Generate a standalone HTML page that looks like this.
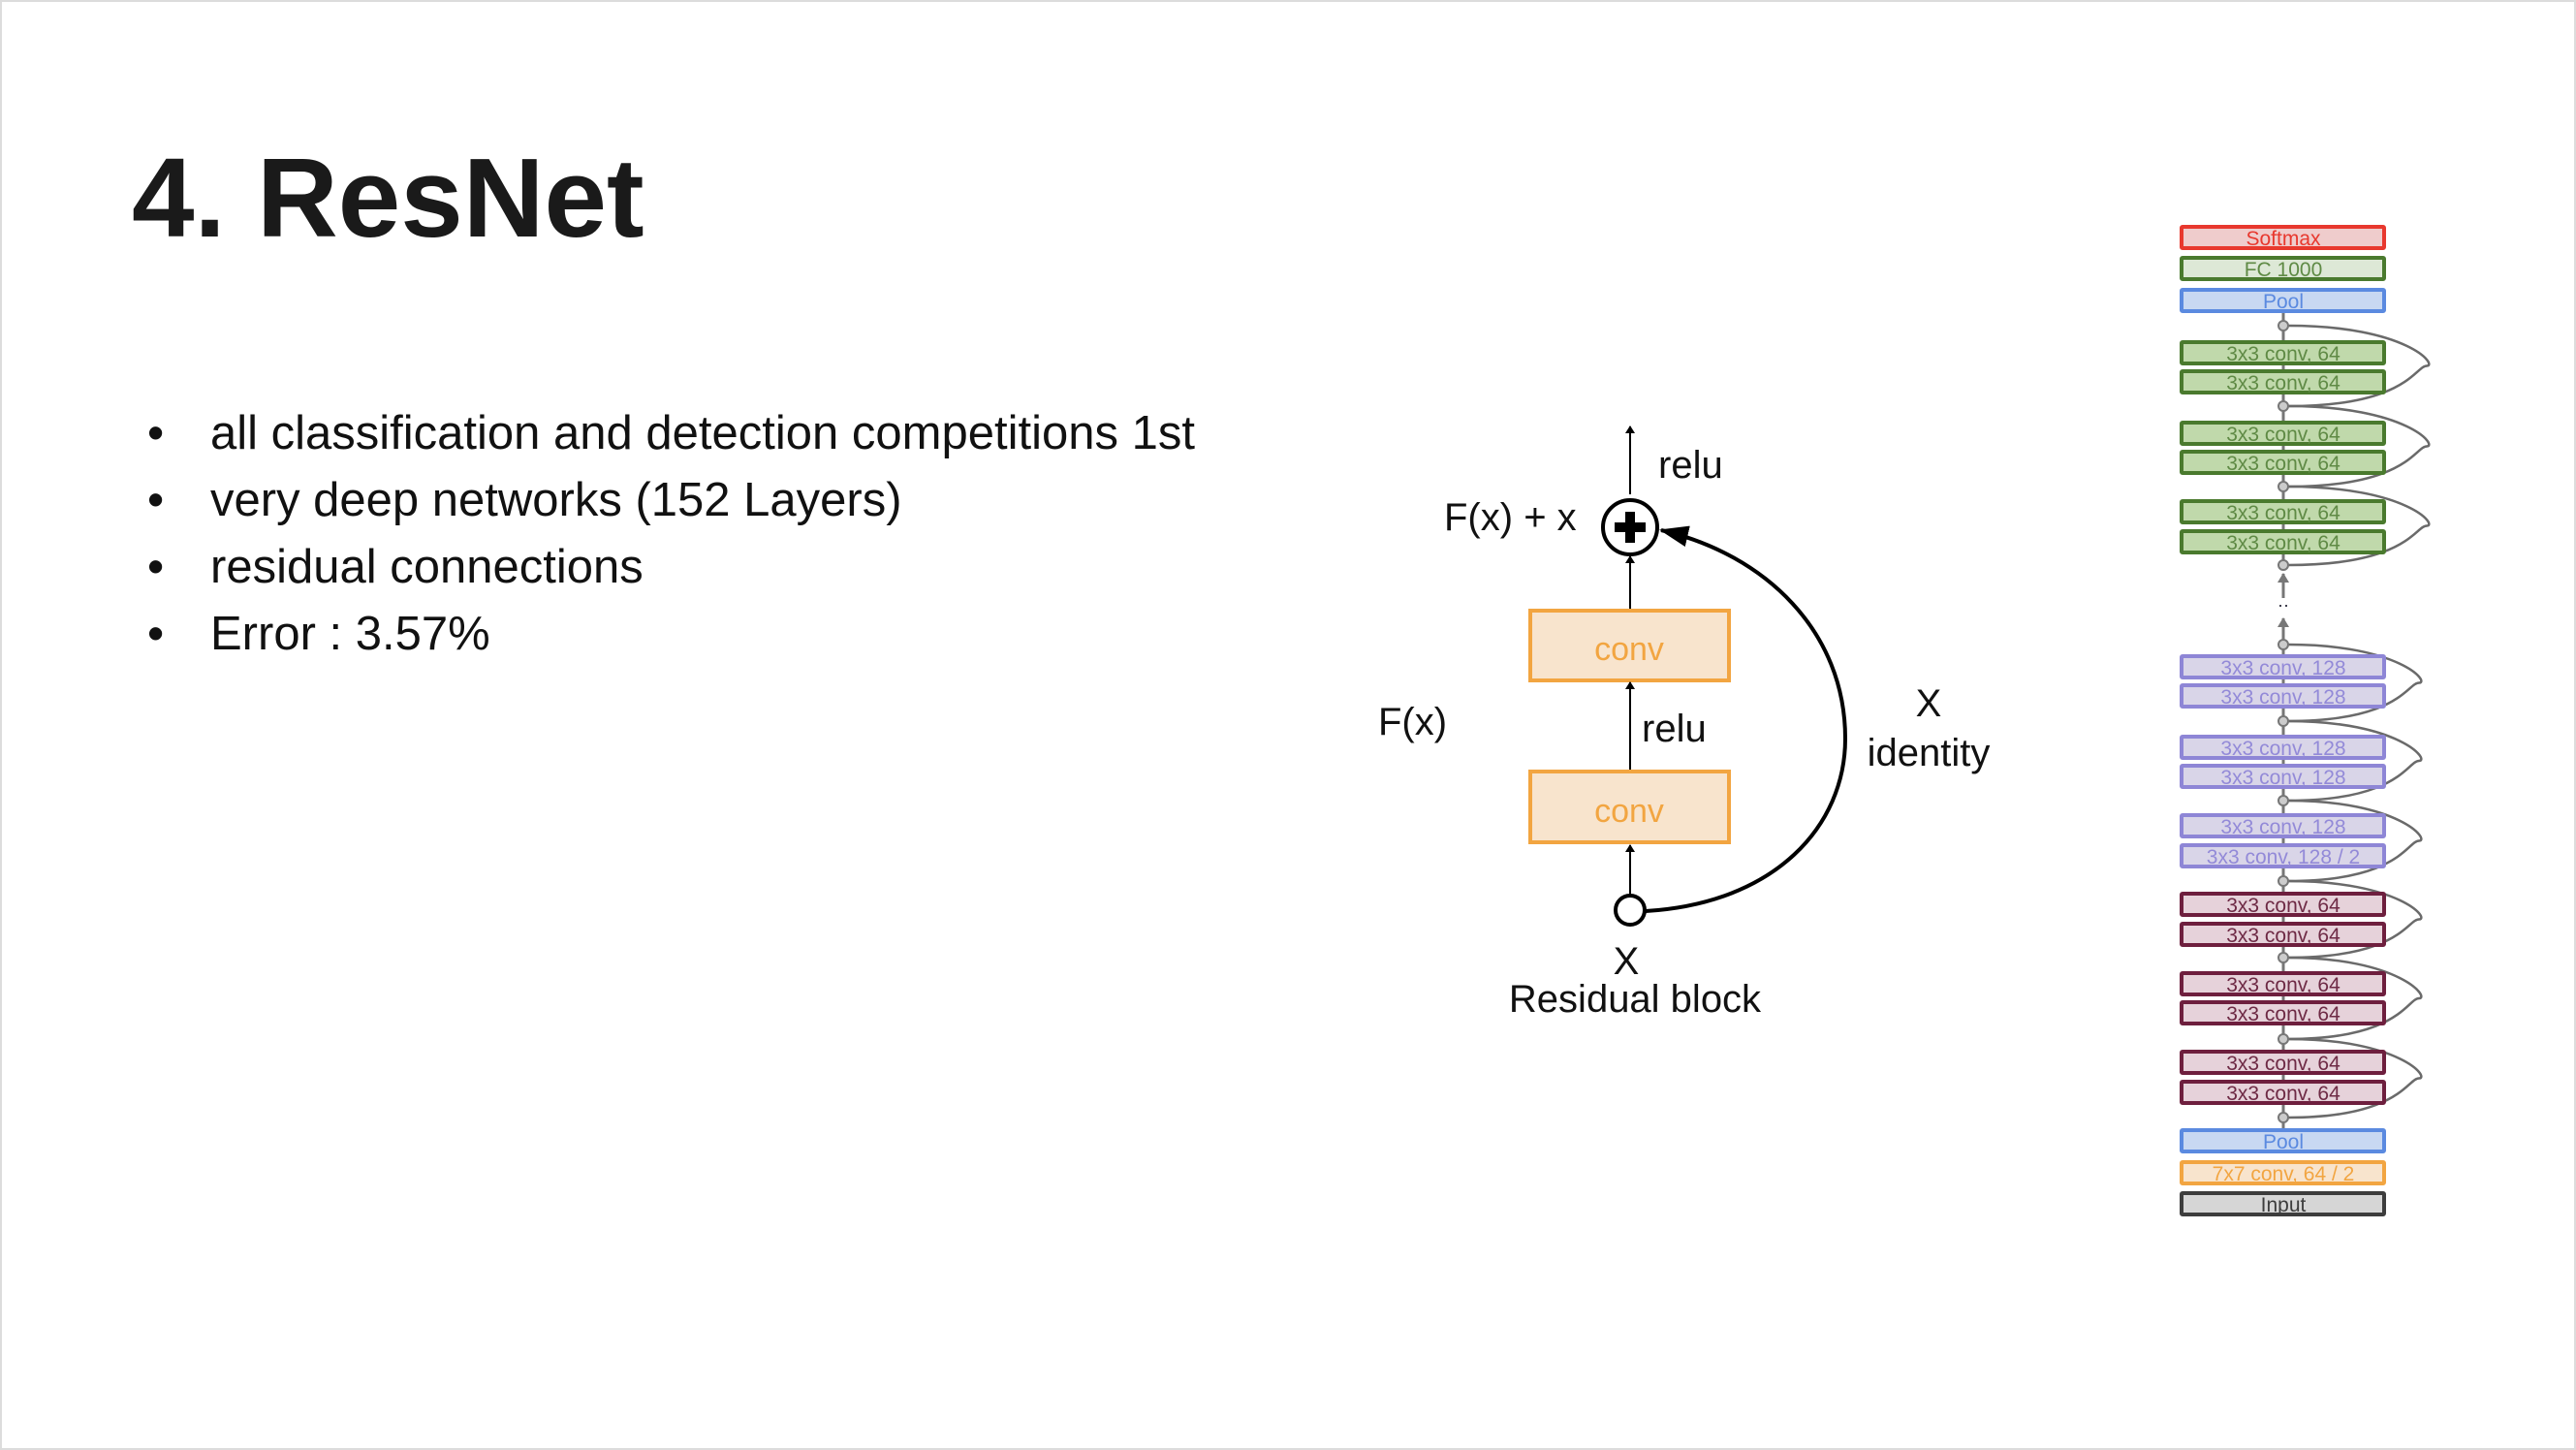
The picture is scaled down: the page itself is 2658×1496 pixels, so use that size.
<!DOCTYPE html>
<html><head><meta charset="utf-8"><style>
html,body{margin:0;padding:0;background:#fff;}
#slide{position:relative;width:2658px;height:1496px;overflow:hidden;background:#fff;box-sizing:border-box;border:2px solid #dcdcdc;font-family:"Liberation Sans",sans-serif;}
</style></head><body>
<div id="slide">
<svg width="2658" height="1496" viewBox="0 0 2658 1496" style="position:absolute;left:0;top:0" font-family="Liberation Sans, sans-serif">
<text x="134" y="242" font-size="116" font-weight="bold" fill="#1a1a1a">4. ResNet</text>
<g font-size="49" fill="#111">
<text x="150" y="461">•</text><text x="215" y="461">all classification and detection competitions 1st</text>
<text x="150" y="530">•</text><text x="215" y="530">very deep networks (152 Layers)</text>
<text x="150" y="599">•</text><text x="215" y="599">residual connections</text>
<text x="150" y="668">•</text><text x="215" y="668">Error : 3.57%</text>
</g>
<defs><marker id="ah" markerWidth="8" markerHeight="10" refX="7" refY="5" orient="auto" markerUnits="userSpaceOnUse"><path d="M0,0 L8,5 L0,10 z" fill="#000"/></marker>
<marker id="ahb" markerWidth="30" markerHeight="22" refX="28" refY="11" orient="auto" markerUnits="userSpaceOnUse"><path d="M0,0 L30,11 L0,22 z" fill="#000"/></marker>
<marker id="ahg" markerWidth="10" markerHeight="12" refX="9" refY="6" orient="auto" markerUnits="userSpaceOnUse"><path d="M0,0 L10,6 L0,12 z" fill="#777"/></marker></defs>
<g>
<line x1="1680" y1="508" x2="1680" y2="438" stroke="#000" stroke-width="2" marker-end="url(#ah)"/>
<text x="1709" y="491" font-size="40" fill="#111">relu</text>
<text x="1488" y="545" font-size="40" fill="#111">F(x) + x</text>
<circle cx="1680" cy="542" r="28" fill="#fff" stroke="#000" stroke-width="4"/>
<rect x="1664" y="537" width="32" height="10" fill="#000"/><rect x="1675" y="526" width="10" height="32" fill="#000"/>
<line x1="1680" y1="626" x2="1680" y2="572" stroke="#000" stroke-width="2" marker-end="url(#ah)"/>
<rect x="1577" y="628" width="205" height="72" fill="#f8e4cd" stroke="#f2a541" stroke-width="4"/>
<text x="1679" y="679" font-size="34" fill="#f2a541" text-anchor="middle">conv</text>
<line x1="1680" y1="792" x2="1680" y2="702" stroke="#000" stroke-width="2" marker-end="url(#ah)"/>
<text x="1692" y="763" font-size="40" fill="#111">relu</text>
<text x="1420" y="756" font-size="40" fill="#111">F(x)</text>
<rect x="1577" y="794" width="205" height="73" fill="#f8e4cd" stroke="#f2a541" stroke-width="4"/>
<text x="1679" y="846" font-size="34" fill="#f2a541" text-anchor="middle">conv</text>
<line x1="1680" y1="921" x2="1680" y2="870" stroke="#000" stroke-width="2" marker-end="url(#ah)"/>
<circle cx="1680" cy="937" r="15" fill="#fff" stroke="#000" stroke-width="4"/>
<path d="M1696,938 C1830,930 1902,850 1902,760 C1902,650 1820,570 1712,545" fill="none" stroke="#000" stroke-width="4" marker-end="url(#ahb)"/>
<text x="1988" y="737" font-size="40" fill="#111" text-anchor="middle">X</text>
<text x="1988" y="788" font-size="40" fill="#111" text-anchor="middle">identity</text>
<text x="1676" y="1003" font-size="40" fill="#111" text-anchor="middle">X</text>
<text x="1685" y="1042" font-size="40" fill="#111" text-anchor="middle">Residual block</text>
</g>
<g id="stack"></g>
</svg>
</div>
<script>
const layerLabels=["Softmax","FC 1000","Pool","3x3 conv, 64","3x3 conv, 64","3x3 conv, 64","3x3 conv, 64","3x3 conv, 64","3x3 conv, 64","3x3 conv, 128","3x3 conv, 128","3x3 conv, 128","3x3 conv, 128","3x3 conv, 128","3x3 conv, 128 / 2","3x3 conv, 64","3x3 conv, 64","3x3 conv, 64","3x3 conv, 64","3x3 conv, 64","3x3 conv, 64","Pool","7x7 conv, 64 / 2","Input"];
const layerTops=[232,264,297,351,381,434,464,515,546,675,705,758,788,839,870,920,951,1002,1032,1083,1114,1164,1197,1229];
const layerKinds=["soft","fc","pool","g","g","g","g","g","g","p","p","p","p","p","p","m","m","m","m","m","m","pool","o","in"];
const nodeYs=[334,417,500,581,663,742,824,907,986,1070,1151];
const styles={soft:["#efcccc","#e8382e","#e8382e"],fc:["#dde8d6","#4a7a2e","#5f8a45"],pool:["#c8d8f2","#5b8ae0","#5b8ae0"],g:["#c0d9ab","#4a7a2e","#5f8a45"],p:["#d9d5e8","#8e86d6","#938ad8"],m:["#e6d2da","#6e1f3e","#6e2a45"],o:["#f8e4cd","#f2a541","#f2a541"],in:["#d6d6d6","#3d3d3d","#3d3d3d"]};
const NS="http://www.w3.org/2000/svg",g=document.getElementById('stack');
const X0=2249,W=209,CX=2354,H=22;
function mk(t,a){const e=document.createElementNS(NS,t);for(const k in a)e.setAttribute(k,a[k]);g.appendChild(e);return e;}
mk('line',{x1:CX,y1:318,x2:CX,y2:586,stroke:'#777','stroke-width':3});
mk('line',{x1:CX,y1:663,x2:CX,y2:1164,stroke:'#777','stroke-width':3});
mk('line',{x1:CX,y1:615,x2:CX,y2:590,stroke:'#777','stroke-width':3,'marker-end':'url(#ahg)'});
mk('line',{x1:CX,y1:660,x2:CX,y2:636,stroke:'#777','stroke-width':3,'marker-end':'url(#ahg)'});
const dots=mk('text',{x:CX,y:628,'font-size':18,'text-anchor':'middle',fill:'#223'});dots.textContent='··';
for(let i=0;i<nodeYs.length-1;i++){
  if(i===3)continue;
  const y1=nodeYs[i],y2=nodeYs[i+1],bx=(i<3?2502:2494);
  const p=mk('path',{d:`M${CX+5},${y1} C${bx-20},${y1} ${bx+12},${(y1+y2)/2} ${bx},${(y1+y2)/2} S${bx-20},${y2} ${CX+5},${y2}`,fill:'none',stroke:'#6a6a6a','stroke-width':2.5});
  
  
}
for(let i=0;i<layerLabels.length;i++){
  const s=styles[layerKinds[i]],y=layerTops[i];
  const r=mk('rect',{x:X0,y:y,width:W,height:H,fill:s[0],stroke:s[1],'stroke-width':4,rx:1});
  
  
  const t=mk('text',{x:CX,y:y+H-3,'font-size':21,'text-anchor':'middle',fill:s[2]});
  t.textContent=layerLabels[i];
  
  
}
for(const y of nodeYs){
  const c=mk('circle',{cx:CX,cy:y,r:5,fill:'#ccc',stroke:'#777','stroke-width':2});
  
  
}
</script>
</body></html>
